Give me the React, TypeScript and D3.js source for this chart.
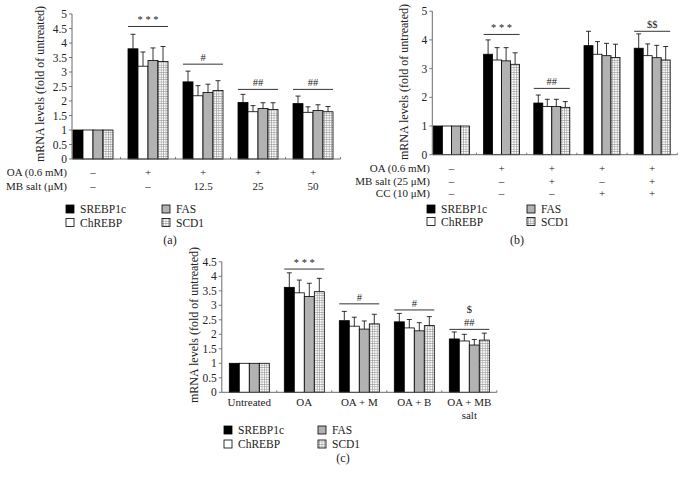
import React from "react";
import * as d3 from "d3";

const genes = ["SREBP1c", "ChREBP", "FAS", "SCD1"];

// Panel (a)
const aOA = ["–", "+", "+", "+", "+"];
const aMB = ["–", "–", "12.5", "25", "50"];
const aSREBP1c = [1, 3.8, 2.66, 1.95, 1.91];
const aChREBP = [1, 3.2, 2.18, 1.63, 1.61];
const aFAS = [1, 3.4, 2.29, 1.74, 1.67];
const aSCD1 = [1, 3.36, 2.36, 1.71, 1.63];
const aSREBP1cErr = [0, 0.5, 0.37, 0.28, 0.26];
const aChREBPErr = [0, 0.49, 0.35, 0.21, 0.19];
const aFASErr = [0, 0.43, 0.29, 0.2, 0.2];
const aSCD1Err = [0, 0.52, 0.34, 0.23, 0.18];
const aTicks = [0, 0.5, 1, 1.5, 2, 2.5, 3, 3.5, 4, 4.5, 5];
const aSigGroup = [1, 2, 3, 4];
const aSigLevel = [4.57, 3.27, 2.4, 2.4];
const aSigText = ["* * *", "#", "##", "##"];

// Panel (b)
const bOA = ["–", "+", "+", "+", "+"];
const bMB = ["–", "–", "+", "–", "+"];
const bCC = ["–", "–", "–", "+", "+"];
const bSREBP1c = [1, 3.5, 1.8, 3.8, 3.71];
const bChREBP = [1, 3.3, 1.68, 3.5, 3.45];
const bFAS = [1, 3.27, 1.68, 3.45, 3.38];
const bSCD1 = [1, 3.15, 1.65, 3.39, 3.3];
const bSREBP1cErr = [0, 0.5, 0.28, 0.5, 0.5];
const bChREBPErr = [0, 0.43, 0.25, 0.44, 0.41];
const bFASErr = [0, 0.46, 0.25, 0.43, 0.43];
const bSCD1Err = [0, 0.4, 0.2, 0.46, 0.47];
const bTicks = [0, 1, 2, 3, 4, 5];
const bSigGroup = [1, 2, 4];
const bSigLevel = [4.19, 2.31, 4.3];
const bSigText = ["* * *", "##", "$$"];

// Panel (c)
const cCats = ["Untreated", "OA", "OA + M", "OA + B", "OA + MB|salt"];
const cSREBP1c = [1, 3.62, 2.47, 2.43, 1.84];
const cChREBP = [1, 3.43, 2.28, 2.22, 1.77];
const cFAS = [1, 3.3, 2.18, 2.12, 1.63];
const cSCD1 = [1, 3.47, 2.36, 2.3, 1.8];
const cSREBP1cErr = [0, 0.5, 0.32, 0.29, 0.24];
const cChREBPErr = [0, 0.44, 0.31, 0.29, 0.23];
const cFASErr = [0, 0.46, 0.28, 0.28, 0.19];
const cSCD1Err = [0, 0.46, 0.33, 0.31, 0.24];
const cTicks = [0, 0.5, 1, 1.5, 2, 2.5, 3, 3.5, 4, 4.5];
const cSigGroup = [1, 2, 3, 4];
const cSigLevel = [4.25, 3.05, 2.84, 2.17];
const cSigText = ["* * *", "#", "#", "##"];

const FILLS = ["#000000", "#ffffff", "#b2b2b2", "url(#grid)"];
const AXIS = "#5a5a5a";
const TXT: React.CSSProperties = { fontFamily: "'Liberation Serif', 'Times New Roman', 'DejaVu Serif', serif" };

type PanelProps = {
  series: number[][];
  errs: number[][];
  ticks: number[];
  axisX: number;
  rangeX: [number, number];
  innerPad: number;
  y0: number;
  unit: number;
  sigGroup: number[];
  sigLevel: number[];
  sigText: string[];
  labelX: number;
  labelY: number;
  extraSig?: { g: number; v: number; t: string }[];
};

function Panel(p: PanelProps) {
  const n = p.series[0].length;
  const x = d3
    .scaleBand<number>()
    .domain(d3.range(n))
    .range(p.rangeX)
    .paddingInner(p.innerPad)
    .paddingOuter(p.innerPad / 2);
  const maxT = p.ticks[p.ticks.length - 1];
  const y = d3.scaleLinear().domain([0, maxT]).range([p.y0, p.y0 - p.unit * maxT]);
  const sub = d3
    .scaleBand<number>()
    .domain(d3.range(p.series.length))
    .range([0, x.bandwidth()]);
  const bw = sub.bandwidth();
  const step = x.step();
  const axisEnd = p.rangeX[1];
  return (
    <g style={TXT}>
      {p.ticks.map((t) => (
        <g key={t}>
          <line x1={p.axisX - 3} x2={p.axisX} y1={y(t)} y2={y(t)} stroke={AXIS} strokeWidth={0.8} />
          <text x={p.axisX - 5} y={y(t) + 4} textAnchor="end" fontSize={11.5} fill="#222">
            {t}
          </text>
        </g>
      ))}
      <line x1={p.axisX} x2={p.axisX} y1={p.y0} y2={y(maxT)} stroke={AXIS} strokeWidth={0.9} />
      {p.series.map((s, si) =>
        s.map((v, gi) => {
          const bx = (x(gi) as number) + (sub(si) as number);
          const top = y(v);
          const e = p.errs[si][gi];
          const cx = bx + bw / 2;
          return (
            <g key={si + "-" + gi}>
              <rect x={bx} y={top} width={bw} height={p.y0 - top} fill={FILLS[si]} stroke="#000" strokeWidth={0.8} />
              {e > 0 && (
                <g stroke="#000" strokeWidth={0.8}>
                  <line x1={cx} x2={cx} y1={top} y2={y(v + e)} />
                  <line x1={cx - 2.5} x2={cx + 2.5} y1={y(v + e)} y2={y(v + e)} />
                </g>
              )}
            </g>
          );
        })
      )}
      <line x1={p.axisX} x2={axisEnd} y1={p.y0} y2={p.y0} stroke={AXIS} strokeWidth={0.9} />
      {d3.range(1, n + 1).map((i) => (
        <line key={i} x1={p.rangeX[0] + i * step} x2={p.rangeX[0] + i * step} y1={p.y0} y2={p.y0 - 2} stroke={AXIS} strokeWidth={0.8} />
      ))}
      {p.sigGroup.map((g, i) => {
        const x1 = x(g) as number;
        const x2 = x1 + x.bandwidth();
        const ly = y(p.sigLevel[i]);
        return (
          <g key={"s" + i}>
            <line x1={x1} x2={x2} y1={ly} y2={ly} stroke="#000" strokeWidth={0.8} />
            <text x={(x1 + x2) / 2} y={ly - 3} textAnchor="middle" fontSize={10.5} fill="#222">
              {p.sigText[i]}
            </text>
          </g>
        );
      })}
      {(p.extraSig || []).map((s, i) => {
        const x1 = x(s.g) as number;
        const ly = y(s.v);
        return (
          <text key={"e" + i} x={x1 + x.bandwidth() / 2} y={ly} textAnchor="middle" fontSize={10.5} fill="#222">
            {s.t}
          </text>
        );
      })}
      <text transform={`translate(${p.labelX},${p.labelY}) rotate(-90)`} textAnchor="middle" fontSize={12} fill="#222">
        mRNA levels (fold of untreated)
      </text>
    </g>
  );
}

function Legend({ x, y, dx, dy }: { x: number; y: number; dx: number; dy: number }) {
  return (
    <g style={TXT}>
      {genes.map((g, i) => {
        const col = i < 2 ? 0 : 1;
        const row = i % 2;
        const lx = x + col * dx;
        const ly = y + row * dy;
        return (
          <g key={g}>
            <rect x={lx} y={ly - 4} width={8} height={8} fill={FILLS[i]} stroke="#000" strokeWidth={0.8} />
            <text x={lx + 14} y={ly + 4} fontSize={11.5} fill="#222">
              {g}
            </text>
          </g>
        );
      })}
    </g>
  );
}

function Rows({ rows, names, labelX, ys, xs }: { rows: string[][]; names: string[]; labelX: number; ys: number[]; xs: number[] }) {
  return (
    <g style={TXT} fontSize={11} fill="#222">
      {names.map((nm, r) => (
        <g key={r}>
          <text x={labelX} y={ys[r]} textAnchor="end">
            {nm}
          </text>
          {rows[r].map((v, i) => (
            <text key={i} x={xs[i]} y={ys[r]} textAnchor="middle">
              {v}
            </text>
          ))}
        </g>
      ))}
    </g>
  );
}

export default function App() {
  const aRange: [number, number] = [65.5, 340.5];
  const bRange: [number, number] = [426.3, 677.3];
  const cRange: [number, number] = [221.8, 496.8];
  const centers = (r: [number, number], n: number) => {
    const s = (r[1] - r[0]) / n;
    return d3.range(n).map((i) => r[0] + s * (i + 0.5));
  };
  const aX = centers(aRange, 5);
  const bX = centers(bRange, 5);
  const cX = centers(cRange, 5);
  return (
    <svg width={685} height={485} style={{ position: "absolute", left: 0, top: 0, background: "#fff" }}>
      <defs>
        <pattern id="grid" width={2.4} height={2.4} patternUnits="userSpaceOnUse">
          <rect width={2.4} height={2.4} fill="#fff" />
          <path d="M0 0.3 H2.4 M0.3 0 V2.4" stroke="#8a8a8a" strokeWidth={0.6} />
        </pattern>
      </defs>
      <Panel
        series={[aSREBP1c, aChREBP, aFAS, aSCD1]}
        errs={[aSREBP1cErr, aChREBPErr, aFASErr, aSCD1Err]}
        ticks={aTicks}
        axisX={72}
        rangeX={aRange}
        innerPad={15 / 55}
        y0={159}
        unit={29}
        sigGroup={aSigGroup}
        sigLevel={aSigLevel}
        sigText={aSigText}
        labelX={44}
        labelY={84}
      />
      <Rows rows={[aOA, aMB]} names={["OA (0.6 mM)", "MB salt (μM)"]} labelX={67} ys={[176, 190]} xs={aX} />
      <Legend x={66} y={209} dx={96} dy={13.5} />
      <text x={170} y={244} textAnchor="middle" fontSize={12} style={TXT} fill="#222">(a)</text>

      <Panel
        series={[bSREBP1c, bChREBP, bFAS, bSCD1]}
        errs={[bSREBP1cErr, bChREBPErr, bFASErr, bSCD1Err]}
        ticks={bTicks}
        axisX={432.3}
        rangeX={bRange}
        innerPad={14.2 / 50.2}
        y0={154.7}
        unit={28.7}
        sigGroup={bSigGroup}
        sigLevel={bSigLevel}
        sigText={bSigText}
        labelX={408}
        labelY={82}
      />
      <Rows
        rows={[bOA, bMB, bCC]}
        names={["OA (0.6 mM)", "MB salt (25 μM)", "CC (10 μM)"]}
        labelX={430}
        ys={[172, 184.5, 197]}
        xs={bX}
      />
      <Legend x={427} y={209} dx={100} dy={12.5} />
      <text x={517} y={244} textAnchor="middle" fontSize={12} style={TXT} fill="#222">(b)</text>

      <Panel
        series={[cSREBP1c, cChREBP, cFAS, cSCD1]}
        errs={[cSREBP1cErr, cChREBPErr, cFASErr, cSCD1Err]}
        ticks={cTicks}
        axisX={221.8}
        rangeX={cRange}
        innerPad={15 / 55}
        y0={392.3}
        unit={29}
        sigGroup={cSigGroup}
        sigLevel={cSigLevel}
        sigText={cSigText}
        labelX={198}
        labelY={325}
        extraSig={[{ g: 4, v: 2.72, t: "$" }]}
      />
      <g style={TXT} fontSize={11} fill="#222">
        {cCats.map((c, i) =>
          c.split("|").map((part, j) => (
            <text key={i + "-" + j} x={cX[i]} y={406 + j * 12.5} textAnchor="middle">
              {part}
            </text>
          ))
        )}
      </g>
      <Legend x={224} y={430} dx={94} dy={14} />
      <text x={343} y={462} textAnchor="middle" fontSize={12} style={TXT} fill="#222">(c)</text>
    </svg>
  );
}
